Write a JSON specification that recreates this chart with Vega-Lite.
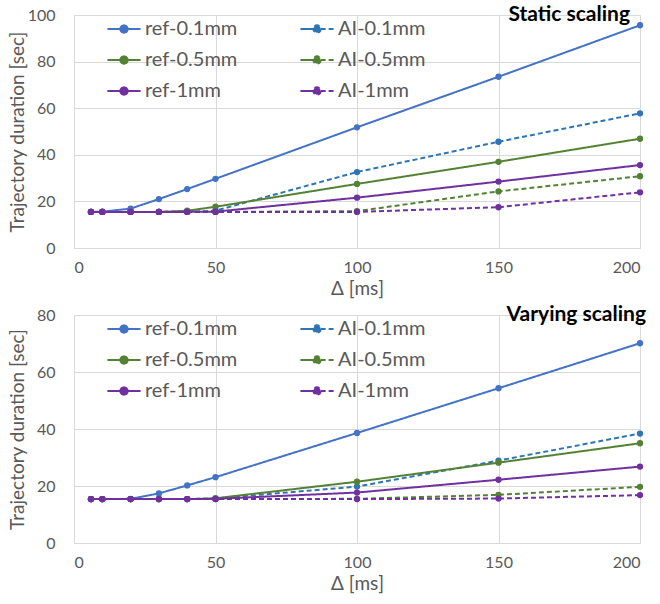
{
  "$schema": "https://vega.github.io/schema/vega-lite/v6.json",
  "padding": {"left": 8, "top": 4, "right": 14, "bottom": 2},
  "background": "white",
  "config": {
    "font": "Lato",
    "view": {"stroke": null},
    "axis": {
      "labelFont": "Lato", "labelFontSize": 16, "labelColor": "#595959",
      "titleFont": "Lato", "titleFontSize": 19, "titleColor": "#595959", "titleFontWeight": "normal",
      "gridColor": "#d9d9d9", "gridWidth": 1, "domainColor": "#d9d9d9", "ticks": false
    },
    "legend": {"labelFont": "Lato", "labelFontSize": 20, "labelColor": "#595959"}
  },
  "data": {"values": [
    {"p":"Static","s":"ref-0.1mm","x":6,"y":15.5},{"p":"Static","s":"ref-0.1mm","x":10,"y":15.6},{"p":"Static","s":"ref-0.1mm","x":20,"y":16.9},{"p":"Static","s":"ref-0.1mm","x":30,"y":21.0},{"p":"Static","s":"ref-0.1mm","x":40,"y":25.3},{"p":"Static","s":"ref-0.1mm","x":50,"y":29.7},{"p":"Static","s":"ref-0.1mm","x":100,"y":51.8},{"p":"Static","s":"ref-0.1mm","x":150,"y":73.5},{"p":"Static","s":"ref-0.1mm","x":200,"y":95.6},
    {"p":"Static","s":"AI-0.1mm","x":6,"y":15.5},{"p":"Static","s":"AI-0.1mm","x":10,"y":15.5},{"p":"Static","s":"AI-0.1mm","x":20,"y":15.5},{"p":"Static","s":"AI-0.1mm","x":30,"y":15.5},{"p":"Static","s":"AI-0.1mm","x":40,"y":15.6},{"p":"Static","s":"AI-0.1mm","x":50,"y":16.0},{"p":"Static","s":"AI-0.1mm","x":100,"y":32.6},{"p":"Static","s":"AI-0.1mm","x":150,"y":45.6},{"p":"Static","s":"AI-0.1mm","x":200,"y":57.8},
    {"p":"Static","s":"ref-0.5mm","x":6,"y":15.5},{"p":"Static","s":"ref-0.5mm","x":10,"y":15.5},{"p":"Static","s":"ref-0.5mm","x":20,"y":15.5},{"p":"Static","s":"ref-0.5mm","x":30,"y":15.5},{"p":"Static","s":"ref-0.5mm","x":40,"y":16.0},{"p":"Static","s":"ref-0.5mm","x":50,"y":17.7},{"p":"Static","s":"ref-0.5mm","x":100,"y":27.5},{"p":"Static","s":"ref-0.5mm","x":150,"y":37.0},{"p":"Static","s":"ref-0.5mm","x":200,"y":46.9},
    {"p":"Static","s":"AI-0.5mm","x":6,"y":15.5},{"p":"Static","s":"AI-0.5mm","x":10,"y":15.5},{"p":"Static","s":"AI-0.5mm","x":20,"y":15.5},{"p":"Static","s":"AI-0.5mm","x":30,"y":15.5},{"p":"Static","s":"AI-0.5mm","x":40,"y":15.5},{"p":"Static","s":"AI-0.5mm","x":50,"y":15.5},{"p":"Static","s":"AI-0.5mm","x":100,"y":15.8},{"p":"Static","s":"AI-0.5mm","x":150,"y":24.3},{"p":"Static","s":"AI-0.5mm","x":200,"y":30.8},
    {"p":"Static","s":"ref-1mm","x":6,"y":15.5},{"p":"Static","s":"ref-1mm","x":10,"y":15.5},{"p":"Static","s":"ref-1mm","x":20,"y":15.5},{"p":"Static","s":"ref-1mm","x":30,"y":15.5},{"p":"Static","s":"ref-1mm","x":40,"y":15.5},{"p":"Static","s":"ref-1mm","x":50,"y":15.6},{"p":"Static","s":"ref-1mm","x":100,"y":21.6},{"p":"Static","s":"ref-1mm","x":150,"y":28.5},{"p":"Static","s":"ref-1mm","x":200,"y":35.6},
    {"p":"Static","s":"AI-1mm","x":6,"y":15.5},{"p":"Static","s":"AI-1mm","x":10,"y":15.5},{"p":"Static","s":"AI-1mm","x":20,"y":15.5},{"p":"Static","s":"AI-1mm","x":30,"y":15.5},{"p":"Static","s":"AI-1mm","x":40,"y":15.5},{"p":"Static","s":"AI-1mm","x":50,"y":15.5},{"p":"Static","s":"AI-1mm","x":100,"y":15.5},{"p":"Static","s":"AI-1mm","x":150,"y":17.5},{"p":"Static","s":"AI-1mm","x":200,"y":23.9},
    {"p":"Varying","s":"ref-0.1mm","x":6,"y":15.4},{"p":"Varying","s":"ref-0.1mm","x":10,"y":15.4},{"p":"Varying","s":"ref-0.1mm","x":20,"y":15.5},{"p":"Varying","s":"ref-0.1mm","x":30,"y":17.4},{"p":"Varying","s":"ref-0.1mm","x":40,"y":20.2},{"p":"Varying","s":"ref-0.1mm","x":50,"y":23.1},{"p":"Varying","s":"ref-0.1mm","x":100,"y":38.6},{"p":"Varying","s":"ref-0.1mm","x":150,"y":54.3},{"p":"Varying","s":"ref-0.1mm","x":200,"y":70.1},
    {"p":"Varying","s":"AI-0.1mm","x":6,"y":15.4},{"p":"Varying","s":"AI-0.1mm","x":10,"y":15.4},{"p":"Varying","s":"AI-0.1mm","x":20,"y":15.4},{"p":"Varying","s":"AI-0.1mm","x":30,"y":15.4},{"p":"Varying","s":"AI-0.1mm","x":40,"y":15.4},{"p":"Varying","s":"AI-0.1mm","x":50,"y":15.6},{"p":"Varying","s":"AI-0.1mm","x":100,"y":19.8},{"p":"Varying","s":"AI-0.1mm","x":150,"y":28.9},{"p":"Varying","s":"AI-0.1mm","x":200,"y":38.4},
    {"p":"Varying","s":"ref-0.5mm","x":6,"y":15.4},{"p":"Varying","s":"ref-0.5mm","x":10,"y":15.4},{"p":"Varying","s":"ref-0.5mm","x":20,"y":15.4},{"p":"Varying","s":"ref-0.5mm","x":30,"y":15.4},{"p":"Varying","s":"ref-0.5mm","x":40,"y":15.4},{"p":"Varying","s":"ref-0.5mm","x":50,"y":15.7},{"p":"Varying","s":"ref-0.5mm","x":100,"y":21.5},{"p":"Varying","s":"ref-0.5mm","x":150,"y":28.2},{"p":"Varying","s":"ref-0.5mm","x":200,"y":35.0},
    {"p":"Varying","s":"AI-0.5mm","x":6,"y":15.4},{"p":"Varying","s":"AI-0.5mm","x":10,"y":15.4},{"p":"Varying","s":"AI-0.5mm","x":20,"y":15.4},{"p":"Varying","s":"AI-0.5mm","x":30,"y":15.4},{"p":"Varying","s":"AI-0.5mm","x":40,"y":15.4},{"p":"Varying","s":"AI-0.5mm","x":50,"y":15.4},{"p":"Varying","s":"AI-0.5mm","x":100,"y":15.5},{"p":"Varying","s":"AI-0.5mm","x":150,"y":16.9},{"p":"Varying","s":"AI-0.5mm","x":200,"y":19.7},
    {"p":"Varying","s":"ref-1mm","x":6,"y":15.4},{"p":"Varying","s":"ref-1mm","x":10,"y":15.4},{"p":"Varying","s":"ref-1mm","x":20,"y":15.4},{"p":"Varying","s":"ref-1mm","x":30,"y":15.4},{"p":"Varying","s":"ref-1mm","x":40,"y":15.4},{"p":"Varying","s":"ref-1mm","x":50,"y":15.5},{"p":"Varying","s":"ref-1mm","x":100,"y":17.7},{"p":"Varying","s":"ref-1mm","x":150,"y":22.2},{"p":"Varying","s":"ref-1mm","x":200,"y":26.8},
    {"p":"Varying","s":"AI-1mm","x":6,"y":15.4},{"p":"Varying","s":"AI-1mm","x":10,"y":15.4},{"p":"Varying","s":"AI-1mm","x":20,"y":15.4},{"p":"Varying","s":"AI-1mm","x":30,"y":15.4},{"p":"Varying","s":"AI-1mm","x":40,"y":15.4},{"p":"Varying","s":"AI-1mm","x":50,"y":15.4},{"p":"Varying","s":"AI-1mm","x":100,"y":15.4},{"p":"Varying","s":"AI-1mm","x":150,"y":15.6},{"p":"Varying","s":"AI-1mm","x":200,"y":16.8}
  ]},
  "spacing": 6,
  "resolve": {"scale": {"color": "independent", "strokeDash": "independent", "y": "independent"}, "legend": {"color": "independent", "strokeDash": "independent"}},
  "vconcat": [
    {
      "width": 566, "height": 233,
      "title": {"text": "Static scaling", "anchor": "end", "frame": "group", "offset": -18, "fontSize": 21, "fontWeight": "bold", "color": "#000000", "font": "Lato", "dx": -10},
      "transform": [{"filter": "datum.p === 'Static'"}],
      "encoding": {
        "x": {"field": "x", "type": "quantitative", "scale": {"domain": [0, 200], "nice": false}, "axis": {"values": [0, 50, 100, 150, 200], "title": "Δ [ms]", "labelPadding": 11, "titlePadding": 4}},
        "y": {"field": "y", "type": "quantitative", "scale": {"domain": [0, 100], "nice": false}, "axis": {"values": [0, 20, 40, 60, 80, 100], "title": "Trajectory duration [sec]", "labelPadding": 19, "minExtent": 47, "titlePadding": 0}},
        "color": {"field": "s", "type": "nominal", "scale": {"domain": ["ref-0.1mm", "AI-0.1mm", "ref-0.5mm", "AI-0.5mm", "ref-1mm", "AI-1mm"], "range": ["#4472C4", "#2E75B6", "#548235", "#548235", "#7030A0", "#7030A0"]},
          "legend": {"title": null, "orient": "none", "direction": "horizontal", "legendX": 32, "legendY": -4, "columns": 2, "columnPadding": 58, "rowPadding": 3, "symbolType": "M-1,0H-0.22A0.22,0.22 0 1,1 0.22,0A0.22,0.22 0 1,1 -0.22,0ZM0.22,0H1", "symbolSize": 1100, "symbolStrokeWidth": 2, "labelOffset": 3}},
        "strokeDash": {"field": "s", "type": "nominal", "scale": {"domain": ["ref-0.1mm", "AI-0.1mm", "ref-0.5mm", "AI-0.5mm", "ref-1mm", "AI-1mm"], "range": [[1, 0], [5, 3], [1, 0], [5, 3], [1, 0], [5, 3]]},
          "legend": {"title": null, "orient": "none", "direction": "horizontal", "legendX": 32, "legendY": -4, "columns": 2, "columnPadding": 58, "rowPadding": 3, "symbolType": "M-1,0H-0.22A0.22,0.22 0 1,1 0.22,0A0.22,0.22 0 1,1 -0.22,0ZM0.22,0H1", "symbolSize": 1100, "symbolStrokeWidth": 2, "labelOffset": 3}}
      },
      "layer": [
        {"mark": {"type": "line", "strokeWidth": 2}},
        {"mark": {"type": "point", "filled": true, "size": 40, "opacity": 1}, "encoding": {"strokeDash": {"value": [1, 0]}}}
      ]
    },
    {
      "width": 566, "height": 228,
      "title": {"text": "Varying scaling", "anchor": "end", "frame": "group", "offset": -18, "fontSize": 21, "fontWeight": "bold", "color": "#000000", "font": "Lato", "dx": 6},
      "transform": [{"filter": "datum.p === 'Varying'"}],
      "encoding": {
        "x": {"field": "x", "type": "quantitative", "scale": {"domain": [0, 200], "nice": false}, "axis": {"values": [0, 50, 100, 150, 200], "title": "Δ [ms]", "labelPadding": 11, "titlePadding": 4}},
        "y": {"field": "y", "type": "quantitative", "scale": {"domain": [0, 80], "nice": false}, "axis": {"values": [0, 20, 40, 60, 80], "title": "Trajectory duration [sec]", "labelPadding": 19, "minExtent": 47, "titlePadding": 0}},
        "color": {"field": "s", "type": "nominal", "scale": {"domain": ["ref-0.1mm", "AI-0.1mm", "ref-0.5mm", "AI-0.5mm", "ref-1mm", "AI-1mm"], "range": ["#4472C4", "#2E75B6", "#548235", "#548235", "#7030A0", "#7030A0"]},
          "legend": {"title": null, "orient": "none", "direction": "horizontal", "legendX": 32, "legendY": -4, "columns": 2, "columnPadding": 58, "rowPadding": 3, "symbolType": "M-1,0H-0.22A0.22,0.22 0 1,1 0.22,0A0.22,0.22 0 1,1 -0.22,0ZM0.22,0H1", "symbolSize": 1100, "symbolStrokeWidth": 2, "labelOffset": 3}},
        "strokeDash": {"field": "s", "type": "nominal", "scale": {"domain": ["ref-0.1mm", "AI-0.1mm", "ref-0.5mm", "AI-0.5mm", "ref-1mm", "AI-1mm"], "range": [[1, 0], [5, 3], [1, 0], [5, 3], [1, 0], [5, 3]]},
          "legend": {"title": null, "orient": "none", "direction": "horizontal", "legendX": 32, "legendY": -4, "columns": 2, "columnPadding": 58, "rowPadding": 3, "symbolType": "M-1,0H-0.22A0.22,0.22 0 1,1 0.22,0A0.22,0.22 0 1,1 -0.22,0ZM0.22,0H1", "symbolSize": 1100, "symbolStrokeWidth": 2, "labelOffset": 3}}
      },
      "layer": [
        {"mark": {"type": "line", "strokeWidth": 2}},
        {"mark": {"type": "point", "filled": true, "size": 40, "opacity": 1}, "encoding": {"strokeDash": {"value": [1, 0]}}}
      ]
    }
  ]
}
